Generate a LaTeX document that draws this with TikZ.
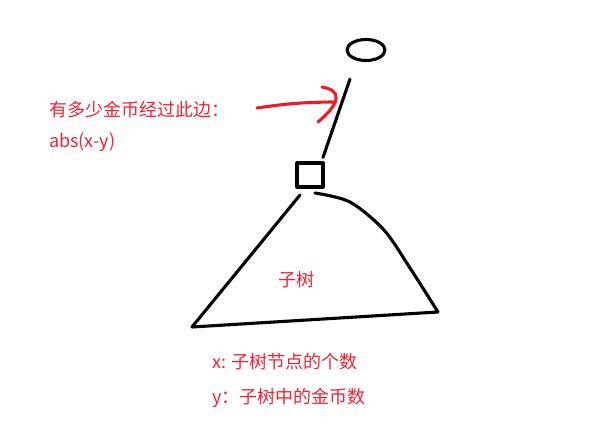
\documentclass[tikz,border=0pt]{standalone}
\usepackage{fontspec}
\newfontfamily\cjk{Noto Sans CJK SC}
\usetikzlibrary{shapes.geometric, calc}
\definecolor{notered}{RGB}{240,32,52}
\definecolor{penred}{RGB}{237,28,36}
\tikzset{
  pen/.style={line width=3.1pt, line cap=round, line join=round},
  note/.style={text=notered, font=\cjk\fontsize{18}{22}\selectfont, inner sep=0pt, anchor=west}
}
\begin{document}
\begin{tikzpicture}[x=1pt, y=-1pt]
    \useasboundingbox (0,0) rectangle (600,433);

    \node[pen, draw, ellipse, minimum width=38, minimum height=21, inner sep=0pt] (root) at (366,50) {};
    \node[pen, draw, minimum width=26, minimum height=24, inner sep=0pt] (sub) at (310,175) {};
    \draw[pen] ($(root.south)+(-16,17)$) -- ($(sub.north)+(13,-4)$);

    \draw[pen] (300,195) -- (192,327) -- (438,312)
        plot[smooth] coordinates {(438,312) (410,268) (384,230) (350,202) (315,193)};
    \node[note] (tree) at (278,280) {子树};

    \coordinate (tail) at (257,108);
    \coordinate (tip) at (333,102);
    \draw[pen, penred] (tail) to[bend left=4] (tip);
    \draw[pen, penred] (322,87) .. controls (340,90) and (343,101) .. (318,122);

    \node[note] (ask) at (49,110) {有多少金币经过此边：};
    \node[note] (abs) at (49,142) {abs(x-y)};

    \node[note] (xdef) at (212,362) {x: 子树节点的个数};
    \node[note] (ydef) at (212,398) {y：子树中的金币数};
\end{tikzpicture}
\end{document}
